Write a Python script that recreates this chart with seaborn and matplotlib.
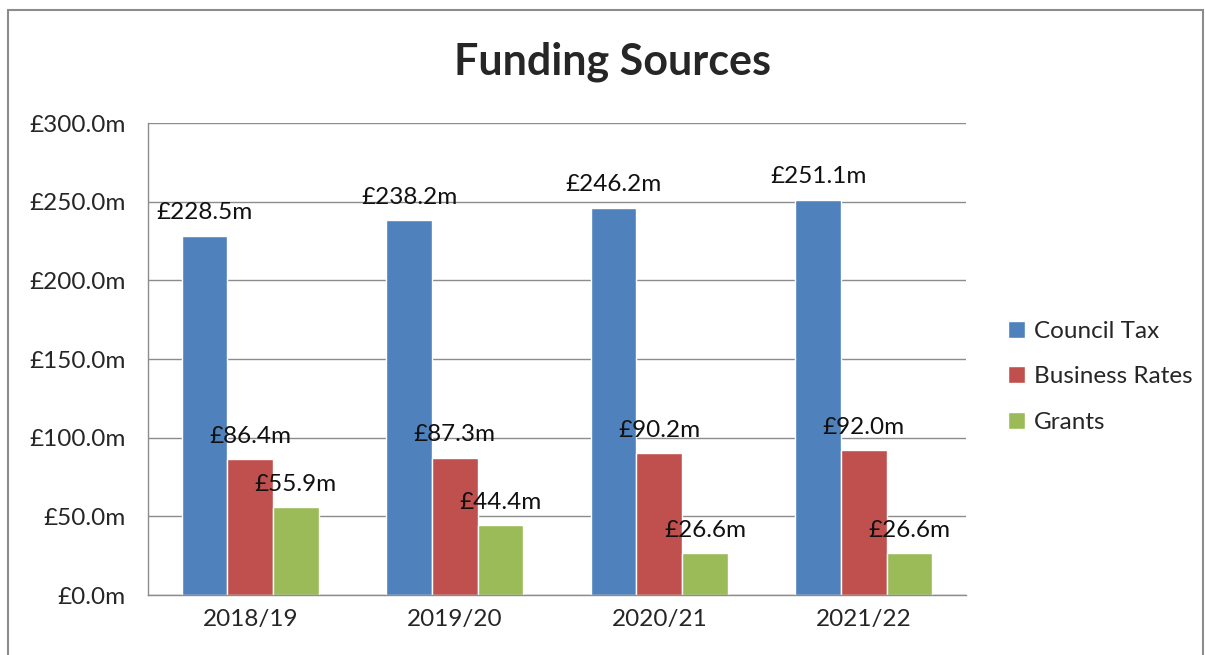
import pandas as pd
import numpy as np
import matplotlib.pyplot as plt
import seaborn as sns
from matplotlib.patches import Rectangle

# Data
years = ['2018/19', '2019/20', '2020/21', '2021/22']
council_tax = [228.5, 238.2, 246.2, 251.1]
business_rates = [86.4, 87.3, 90.2, 92.0]
grants = [55.9, 44.4, 26.6, 26.6]
sources = ['Council Tax', 'Business Rates', 'Grants']
colours = ['#4F81BD', '#C0504D', '#9BBB59']

data = pd.DataFrame({'Year': years * 3,
                     'Source': [s for s in sources for _ in years],
                     'Value': council_tax + business_rates + grants})

sns.set_style('white')
plt.rcParams['font.family'] = ['Lato', 'DejaVu Sans']

fig = plt.figure(figsize=(12.05, 6.55), dpi=100)
ax = fig.add_axes([0.1228, 0.0916, 0.6789, 0.7206])

sns.barplot(data=data, x='Year', y='Value', hue='Source', palette=colours,
            width=0.67, gap=0, saturation=1, ax=ax)

# value labels above bars
for cont in ax.containers:
    ax.bar_label(cont, labels=[f'£{v:.1f}m' for v in cont.datavalues],
                 padding=9, fontsize=17.5, color='#111111')

ax.set_ylim(0, 300)
ax.set_yticks(np.arange(0, 301, 50))
ax.set_yticklabels([f'£{v:.1f}m' for v in np.arange(0, 301, 50)], fontsize=17.5)
ax.set_xlim(-0.5, 3.5)
ax.set_xticks(range(4))
ax.set_xticklabels(years, fontsize=17.5)
ax.set_xticks(np.arange(-0.5, 4, 1), minor=True)
ax.tick_params(axis='x', which='major', length=0, pad=10)
ax.tick_params(axis='x', which='minor', length=8, color='#888888', direction='out', width=1)
ax.tick_params(axis='y', length=8, color='#888888', direction='out', width=1, pad=8)
ax.set_xlabel('')
ax.set_ylabel('')
ax.yaxis.grid(True, color='#8c8c8c', linewidth=1)
ax.set_axisbelow(True)
for side in ['top', 'right']:
    ax.spines[side].set_visible(False)
for side in ['left', 'bottom']:
    ax.spines[side].set_color('#8c8c8c')
    ax.spines[side].set_linewidth(1)

ax.legend(loc='center left', bbox_to_anchor=(1.025, 0.462), frameon=False,
          fontsize=17.5, handlelength=0.7, handleheight=0.7, handletextpad=0.35,
          labelspacing=1.0)

fig.text(0.508, 0.905, 'Funding Sources', ha='center', va='center',
         fontsize=31, fontweight='bold')

# chart border
fig.patches.append(Rectangle((8 / 1205, -0.05), 1195 / 1205, 0.05 + 645 / 655,
                             transform=fig.transFigure, fill=False,
                             edgecolor='#8c8c8c', linewidth=1.5))

fig.savefig('out.png', dpi=100)
